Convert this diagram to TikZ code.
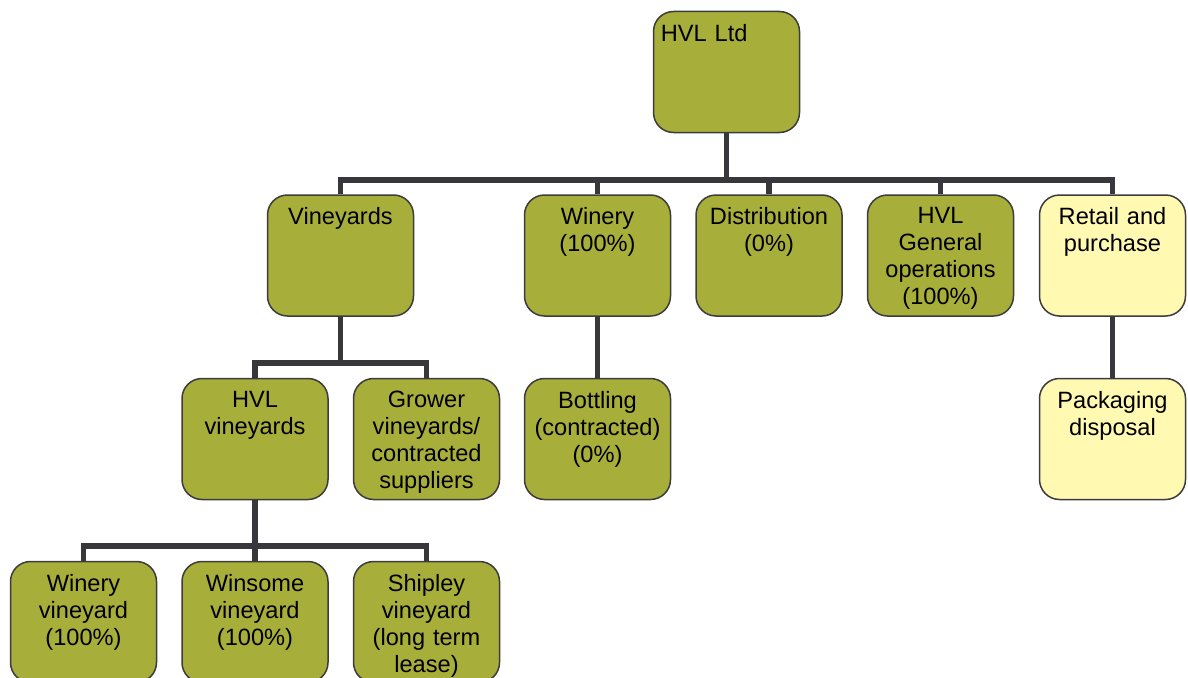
\documentclass[tikz,border=0pt]{standalone}
\usepackage{fontspec}
\setmainfont{Liberation Sans}
\usetikzlibrary{backgrounds}
\definecolor{boxolive}{HTML}{A8AE3A}
\definecolor{boxyellow}{HTML}{FFF9B2}
\definecolor{boxedge}{HTML}{3C3C3C}
\definecolor{connline}{HTML}{38383C}
\begin{document}
\begin{tikzpicture}[x=1pt,y=-1pt,
  orgbox/.style={draw=boxedge, line width=1.5pt, fill=boxolive, rounded corners=20pt,
    minimum width=146pt, minimum height=121pt, inner sep=0pt},
  yellowbox/.style={orgbox, fill=boxyellow},
  lbl/.style={inner sep=0pt, text width=144pt, align=center, anchor=north,
    font=\fontsize{23.6}{27}\selectfont},
  conn/.style={draw=connline, line width=5.5pt}]
\useasboundingbox (0,0) rectangle (1188,677);
% boxes
\node[orgbox] (hvl) at (726.5,72) {};
\node[orgbox] (vin) at (340.5,255.5) {};
\node[orgbox] (win) at (597.5,255.5) {};
\node[orgbox] (dis) at (769,255.5) {};
\node[orgbox] (gen) at (940.5,255.5) {};
\node[yellowbox] (ret) at (1112.5,255.5) {};
\node[orgbox] (hvv) at (255,439) {};
\node[orgbox] (gro) at (426.5,439) {};
\node[orgbox] (bot) at (597.5,439) {};
\node[yellowbox] (pac) at (1112.5,439) {};
\node[orgbox] (wvy) at (83.5,622) {};
\node[orgbox] (wsv) at (255,622) {};
\node[orgbox] (shv) at (426.5,622) {};
% bus coordinates
\coordinate (bus1) at (0,180);
\coordinate (bus2) at (0,363);
\coordinate (bus3) at (0,546);
% connectors (behind boxes)
\begin{scope}[on background layer]
\draw[conn] (hvl.south) -- (hvl.south |- bus1) -| (vin.north);
\draw[conn] (hvl.south |- bus1) -| (win.north);
\draw[conn] (hvl.south |- bus1) -| (dis.north);
\draw[conn] (hvl.south |- bus1) -| (gen.north);
\draw[conn] (hvl.south |- bus1) -| (ret.north);
\draw[conn] (vin.south) -- (vin.south |- bus2) -| (hvv.north);
\draw[conn] (vin.south |- bus2) -| (gro.north);
\draw[conn] (win.south) -- (bot.north);
\draw[conn] (ret.south) -- (pac.north);
\draw[conn] (hvv.south) -- (hvv.south |- bus3) -| (wvy.north);
\draw[conn] (hvv.south |- bus3) -| (wsv.north);
\draw[conn] (hvv.south |- bus3) -| (shv.north);
\end{scope}
% labels
\node[lbl, align=left, anchor=north west] (hvl-t) at ([xshift=8pt,yshift=-13pt]hvl.north west) {HVL Ltd};
\node[lbl] (vin-t) at ([yshift=-13pt]vin.north) {Vineyards};
\node[lbl] (win-t) at ([yshift=-13pt]win.north) {Winery\\(100\%)};
\node[lbl] (dis-t) at ([yshift=-13pt]dis.north) {Distribution\\(0\%)};
\node[lbl] (gen-t) at ([yshift=-13pt]gen.north) {HVL\\General\\operations\\(100\%)};
\node[lbl] (ret-t) at ([yshift=-13pt]ret.north) {Retail and\\purchase};
\node[lbl] (hvv-t) at ([yshift=-13pt]hvv.north) {HVL\\vineyards};
\node[lbl] (gro-t) at ([yshift=-13pt]gro.north) {Grower\\vineyards/\\contracted\\suppliers};
\node[lbl] (bot-t) at ([yshift=-13pt]bot.north) {Bottling\\(contracted)\\(0\%)};
\node[lbl] (pac-t) at ([yshift=-13pt]pac.north) {Packaging\\disposal};
\node[lbl] (wvy-t) at ([yshift=-13pt]wvy.north) {Winery\\vineyard\\(100\%)};
\node[lbl] (wsv-t) at ([yshift=-13pt]wsv.north) {Winsome\\vineyard\\(100\%)};
\node[lbl] (shv-t) at ([yshift=-13pt]shv.north) {Shipley\\vineyard\\(long term\\lease)};
\end{tikzpicture}
\end{document}
